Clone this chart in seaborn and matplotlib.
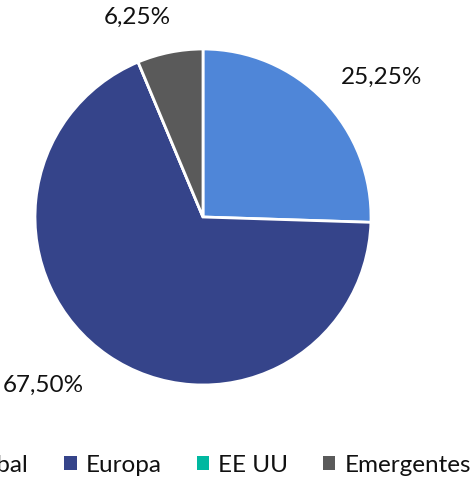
import matplotlib
matplotlib.use('Agg')
import matplotlib.pyplot as plt
import seaborn as sns
import numpy as np
from matplotlib.patches import Patch

# data
categories = ['Global', 'Europa', 'EE UU', 'Emergentes']
values = [0.2525, 0.6750, 0.0, 0.0625]
colors = ['#4F86D8', '#35448A', '#00B8A0', '#5A5A5A']
# label placement tweaks (angle offset in degrees, distance in radii) like Excel's "best fit"
label_shift = [-6, -9, 0, 7]
label_dist = [1.35, 1.38, 1.3, 1.25]

sns.set_theme(style='white')
plt.rcParams['font.family'] = ['Lato', 'DejaVu Sans']

fig = plt.figure(figsize=(4.77, 4.8), dpi=100)
ax = fig.add_axes([35 / 477, 95 / 480, 336 / 477, 336 / 480])

labels = [f'{v * 100:.2f}%'.replace('.', ',') if v > 0 else '' for v in values]

wedges, texts = ax.pie(
    values, colors=colors, startangle=90, counterclock=False,
    labels=labels, labeldistance=1.3, radius=1,
    wedgeprops=dict(edgecolor='white', linewidth=2),
    textprops=dict(fontsize=17.5, color='#111111'))

for w, t, sh, d in zip(wedges, texts, label_shift, label_dist):
    ang = np.deg2rad((w.theta1 + w.theta2) / 2 + sh)
    t.set_position((d * np.cos(ang), d * np.sin(ang)))
    t.set_ha('center')
    t.set_va('center')

ax.set_xlim(-1, 1)
ax.set_ylim(-1, 1)
ax.set_aspect('equal')

# legend (wider than the figure, so the first item is cut off on the left)
handles = [Patch(facecolor=c, edgecolor='none') for c in colors]
fig.legend(handles, categories, loc='center', bbox_to_anchor=(205 / 477, 1 - 465 / 480),
           ncol=4, frameon=False, fontsize=17.5, handlelength=0.5, handleheight=0.5,
           handletextpad=0.37, columnspacing=1.45, labelcolor='#111111')

fig.savefig('out.png', dpi=100)
